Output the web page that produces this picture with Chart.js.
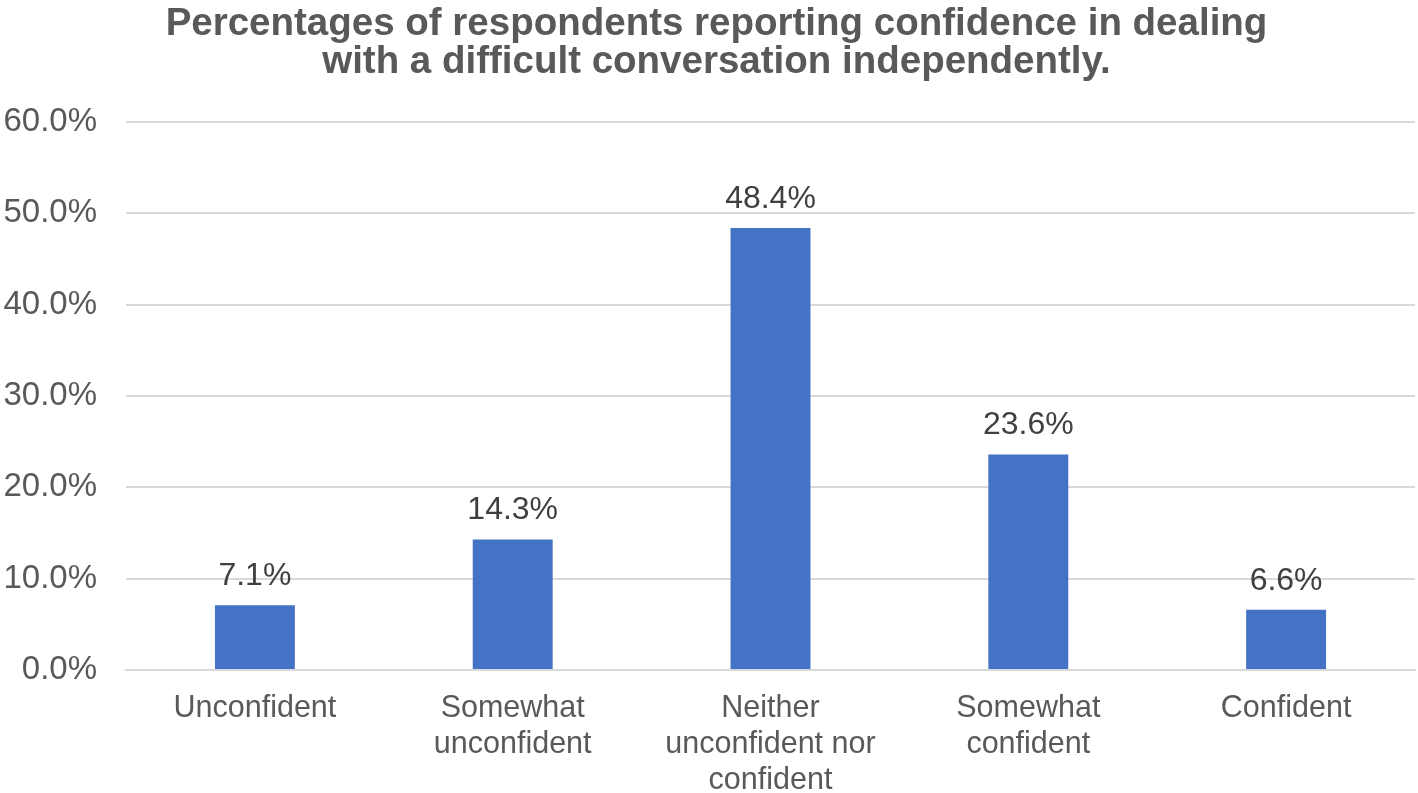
<!DOCTYPE html>
<html>
<head>
<meta charset="utf-8">
<script src="https://cdn.jsdelivr.net/npm/chart.js@4/dist/chart.umd.min.js"></script>
<style>
  html, body { margin: 0; padding: 0; background: #fff; }
  #wrap { width: 1418px; height: 793px; }
</style>
</head>
<body>
<div id="wrap"><canvas id="grafico" width="1418" height="793"></canvas></div>
<script>
const categorias = [
    ["Unconfident"],
    ["Somewhat", "unconfident"],
    ["Neither", "unconfident nor", "confident"],
    ["Somewhat", "confident"],
    ["Confident"]
];
const valores = [7.1, 14.3, 48.4, 23.6, 6.6];
const ticksY = [0, 10, 20, 30, 40, 50, 60];
const titulo = [
    "Percentages of respondents reporting confidence in dealing",
    "with a difficult conversation independently."
];

const fuente = '"Liberation Sans", Arial, sans-serif';

// etiquetas de valor encima de cada barra
const etiquetas = {
    id: 'etiquetas',
    afterDatasetsDraw(chart) {
        const ctx = chart.ctx;
        const meta = chart.getDatasetMeta(0);
        ctx.save();
        ctx.font = '32px ' + fuente;
        ctx.fillStyle = '#404040';
        ctx.textAlign = 'center';
        ctx.textBaseline = 'alphabetic';
        meta.data.forEach((bar, i) => {
            ctx.fillText(valores[i].toFixed(1) + '%', bar.x, bar.y - 20);
        });
        ctx.restore();
    }
};

// titulo dibujado a mano: el original no esta centrado en el lienzo
const tituloPlugin = {
    id: 'tituloPlugin',
    afterDraw(chart) {
        const ctx = chart.ctx;
        ctx.save();
        ctx.font = 'bold 38.5px ' + fuente;
        ctx.fillStyle = '#595959';
        ctx.textAlign = 'center';
        ctx.textBaseline = 'middle';
        const cx = (18 + chart.chartArea.right) / 2;
        titulo.forEach((linea, i) => {
            ctx.fillText(linea, cx, 24 + i * 38);
        });
        ctx.restore();
    }
};

const config = {
    type: 'bar',
    data: {
        labels: categorias,
        datasets: [{
            data: valores,
            backgroundColor: '#4472C4',
            barPercentage: 1,
            categoryPercentage: 0.31
        }]
    },
    options: {
        responsive: false,
        animation: false,
        layout: { padding: { left: 0, right: 3, top: 122, bottom: 0 } },
        plugins: {
            legend: { display: false },
            tooltip: { enabled: false },
            title: { display: false }
        },
        scales: {
            x: {
                grid: { display: false, drawTicks: false },
                border: { display: true, color: '#d9d9d9', width: 2 },
                afterFit(axis) { axis.height = 123; },
                ticks: {
                    color: '#595959',
                    font: { family: fuente, size: 30.5, lineHeight: 36 / 30.5 },
                    maxRotation: 0,
                    padding: 21
                }
            },
            y: {
                min: 0,
                max: 60,
                afterBuildTicks(axis) {
                    axis.ticks = ticksY.map(v => ({ value: v }));
                },
                afterFit(axis) { axis.width = 126; },
                grid: { color: '#d9d9d9', lineWidth: 2, drawTicks: false },
                border: { display: false },
                ticks: {
                    color: '#595959',
                    font: { family: fuente, size: 33 },
                    padding: 29,
                    callback: v => v.toFixed(1) + '%'
                }
            }
        }
    },
    plugins: [etiquetas, tituloPlugin]
};

new Chart(document.getElementById('grafico'), config);
</script>
</body>
</html>
